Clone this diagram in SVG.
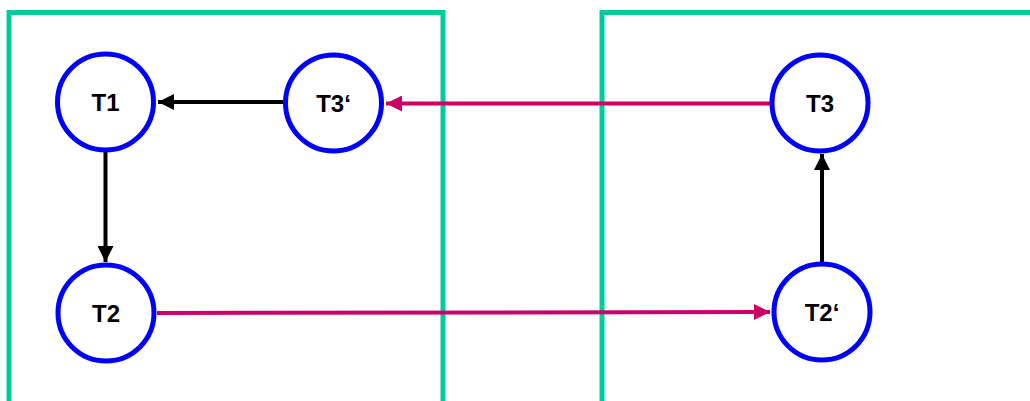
<svg xmlns="http://www.w3.org/2000/svg" width="1030" height="401" viewBox="0 0 1030 401">
  <style>
    .frame { fill: none; stroke: #00CC99; stroke-width: 5; }
    .node circle { fill: #FFFFFF; stroke: #0000FF; stroke-width: 5; }
    .node text { font-family: "Liberation Sans", Arial, sans-serif; font-weight: bold; font-size: 24px; fill: #000000; text-anchor: middle; dominant-baseline: central; }
    .link { fill: none; stroke-width: 4; }
    .black { stroke: #000000; }
    .pink { stroke: #CC0066; }
  </style>
  <defs>
    <marker id="head-black" markerWidth="4" markerHeight="4" refX="4" refY="2" orient="auto" markerUnits="strokeWidth">
      <path d="M0,0 L4,2 L0,4 z" fill="#000000"/>
    </marker>
    <marker id="head-pink" markerWidth="4" markerHeight="4" refX="4" refY="2" orient="auto" markerUnits="strokeWidth">
      <path d="M0,0 L4,2 L0,4 z" fill="#CC0066"/>
    </marker>
  </defs>

  <!-- frames -->
  <g id="frames">
    <rect class="frame" x="9" y="12.5" width="434" height="400"/>
    <rect class="frame" x="602" y="12.5" width="440" height="400"/>
  </g>

  <!-- connectors -->
  <g id="connectors">
    <line class="link black" x1="283" y1="102" x2="158" y2="102" marker-end="url(#head-black)"/>
    <line class="link pink" x1="770" y1="103.5" x2="386" y2="103.5" marker-end="url(#head-pink)"/>
    <line class="link black" x1="105.5" y1="152" x2="105.5" y2="262" marker-end="url(#head-black)"/>
    <line class="link pink" x1="157" y1="313" x2="770" y2="312" marker-end="url(#head-pink)"/>
    <line class="link black" x1="822" y1="262" x2="822" y2="154" marker-end="url(#head-black)"/>
  </g>

  <!-- nodes -->
  <g id="T1" class="node">
    <circle cx="105.5" cy="102" r="48"/>
    <text x="105.5" y="102">T1</text>
  </g>
  <g id="T3prime" class="node">
    <circle cx="333.5" cy="103" r="48"/>
    <text x="333.5" y="103">T3‘</text>
  </g>
  <g id="T2" class="node">
    <circle cx="106" cy="313" r="48"/>
    <text x="106" y="313">T2</text>
  </g>
  <g id="T3" class="node">
    <circle cx="820" cy="103" r="48"/>
    <text x="820" y="103">T3</text>
  </g>
  <g id="T2prime" class="node">
    <circle cx="822" cy="312" r="48"/>
    <text x="822" y="312">T2‘</text>
  </g>
</svg>
